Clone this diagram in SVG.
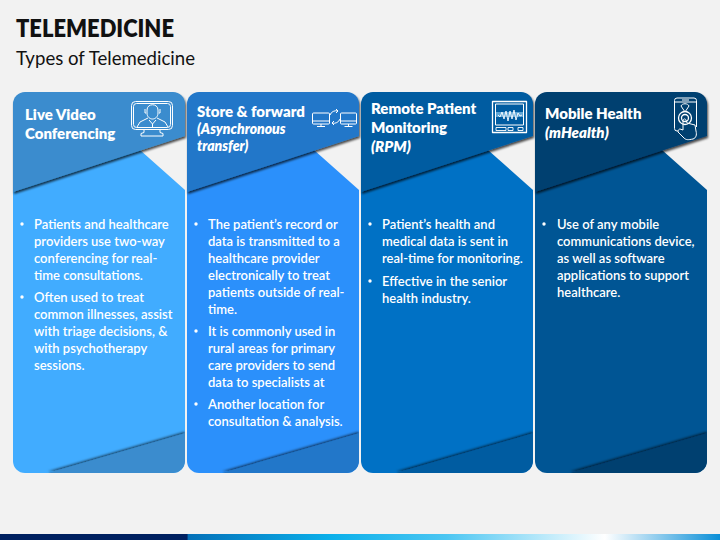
<svg xmlns="http://www.w3.org/2000/svg" width="720" height="540" viewBox="0 0 720 540">
<style>
text{font-family:"Lato","Open Sans","Liberation Sans",sans-serif;fill:#fff}
.t{font-size:15px;font-weight:800}
.i{font-size:14px;font-weight:800;font-style:italic}
.i2{font-size:15px;font-weight:800;font-style:italic}
.b{font-size:13px;font-weight:600}
.ic{fill:none;stroke:#fff;stroke-width:1;stroke-linejoin:round}
.h{font-size:23.5px;font-weight:800;fill:#111}
.s{font-size:18.6px;fill:#111}
</style>
<defs>
<linearGradient id="bar" x1="0" x2="1" y1="0" y2="0">
<stop offset="0" stop-color="#002060"/><stop offset=".26" stop-color="#002060"/><stop offset=".261" stop-color="#0470b8"/><stop offset=".46" stop-color="#0bb0ea"/><stop offset=".62" stop-color="#4cc6f2"/><stop offset=".84" stop-color="#fff"/><stop offset="1" stop-color="#0a8fd8"/>
</linearGradient>
<filter id="sh" x="-10%" y="-10%" width="120%" height="130%"><feDropShadow dx="1" dy="2" stdDeviation="1.2" flood-color="#000" flood-opacity=".7"/></filter>
<filter id="su" x="-10%" y="-30%" width="120%" height="160%"><feDropShadow dx="0" dy="-1.5" stdDeviation="1" flood-color="#000" flood-opacity=".6"/></filter>
<clipPath id="cb"><path d="M0 92H172V461a12 12 0 0 1-12 12H12a12 12 0 0 1-12-12Z"/></clipPath>
<path id="body2" d="M0 150H127L172 190V461a12 12 0 0 1-12 12H12a12 12 0 0 1-12-12Z"/>
<path id="top" d="M0 104a12 12 0 0 1 12-12H160a12 12 0 0 1 12 12V136L0 192Z"/>
<path id="bot" d="M35 473L171 433.500L172 434V461a12 12 0 0 1-12 12Z"/>
</defs>
<rect width="720" height="540" fill="#f2f2f2"/>
<rect y="534" width="720" height="6" fill="url(#bar)"/>
<text id="title" class="h" x="16" y="37" textLength="158" lengthAdjust="spacingAndGlyphs">TELEMEDICINE</text>
<text id="subtitle" class="s" x="16" y="65">Types of Telemedicine</text>

<g id="card1" transform="translate(13 0)">
<use href="#body2" fill="#41acff"/>
<g clip-path="url(#cb)"><use href="#bot" fill="#3a8cce" filter="url(#su)"/></g>
<use href="#top" fill="#3a8cce" filter="url(#sh)"/>
<text class="t" x="12" y="120">Live Video</text>
<text class="t" x="12" y="139">Conferencing</text>
<g class="ic" stroke-width=".9">
<rect x="118.500" y="101.500" width="41" height="28" rx="4"/><rect x="120.500" y="103.500" width="37" height="24" rx="3"/>
<path d="M131 129.500v3l-3 1v2.500h22v-2.500l-3-1v-3"/>
<path d="M134 110c0-7 11-7 11 0v3c0 4-3 6-5.500 6s-5.500-2-5.500-6ZM133 113h-1v-4M146 113h1v-4M135 118l-8 4-3 5M144 118l8 4 3 5M136 120l3.500 4 3.500-4M139.500 124v3"/>
</g>
<g class="b">
<circle cx="9" cy="224" r="1.7" fill="#fff"/>
<text x="21" y="229">Patients and healthcare</text>
<text x="21" y="246">providers use two-way</text>
<text x="21" y="263">conferencing for real-</text>
<text x="21" y="280">time consultations.</text>
<circle cx="9" cy="297" r="1.7" fill="#fff"/>
<text x="21" y="302">Often used to treat</text>
<text x="21" y="319">common illnesses, assist</text>
<text x="21" y="336">with triage decisions, &amp;</text>
<text x="21" y="353">with psychotherapy</text>
<text x="21" y="370">sessions.</text>
</g>
</g>

<g id="card2" transform="translate(187 0)">
<use href="#body2" fill="#2b90fb"/>
<g clip-path="url(#cb)"><use href="#bot" fill="#2277c9" filter="url(#su)"/></g>
<use href="#top" fill="#2277c9" filter="url(#sh)"/>
<text class="t" x="10" y="117">Store &amp; forward</text>
<text class="i" x="10" y="134">(Asynchronous</text>
<text class="i" x="10" y="151">transfer)</text>
<g class="ic" stroke-width="1.2">
<rect x="125.500" y="113" width="17" height="11" rx="1"/><path d="M125.500 121h17M134 124v2M130 126.500h8"/>
<rect x="153.500" y="113" width="16" height="11" rx="1"/><path d="M153.500 121h16M161.500 124v2M157.500 126.500h8"/>
<path d="M143 115a6.500 6.500 0 0 1 8-4M153 119a6.500 6.500 0 0 1-8 4M149 109l2 2-2 2M147 121l-2 2 2 2"/>
</g>
<g class="b">
<circle cx="9" cy="224" r="1.7" fill="#fff"/>
<text x="21" y="229">The patient’s record or</text>
<text x="21" y="246">data is transmitted to a</text>
<text x="21" y="263">healthcare provider</text>
<text x="21" y="280">electronically to treat</text>
<text x="21" y="297">patients outside of real-</text>
<text x="21" y="314">time.</text>
<circle cx="9" cy="331" r="1.7" fill="#fff"/>
<text x="21" y="336">It is commonly used in</text>
<text x="21" y="353">rural areas for primary</text>
<text x="21" y="370">care providers to send</text>
<text x="21" y="387">data to specialists at</text>
<circle cx="9" cy="404" r="1.7" fill="#fff"/>
<text x="21" y="409">Another location for</text>
<text x="21" y="426">consultation &amp; analysis.</text>
</g>
</g>

<g id="card3" transform="translate(361 0)">
<use href="#body2" fill="#0071c5"/>
<g clip-path="url(#cb)"><use href="#bot" fill="#005ca1" filter="url(#su)"/></g>
<use href="#top" fill="#005ca1" filter="url(#sh)"/>
<text class="t" x="10" y="114">Remote Patient</text>
<text class="t" x="10" y="133">Monitoring</text>
<text class="i2" x="10" y="152">(RPM)</text>
<rect x="134" y="112" width="29" height="5" fill="#5fa6d6"/>
<g class="ic">
<rect x="131.500" y="101.500" width="34" height="31" stroke-width="1.3"/>
<rect x="134.500" y="104" width="28" height="21"/>
<path d="M137 115l2 2 2-5 2 7 2-8 2 10 2-10 2 8 2-9 2 10 2-7 2 3 2-1" stroke-width=".9"/>
<path d="M135 127.500h10v3h-10ZM147 127.500h5v3h-5ZM157 127.500h5v3h-5Z" stroke-width=".9"/>
</g>
<g class="b">
<circle cx="9" cy="224" r="1.7" fill="#fff"/>
<text x="21" y="229">Patient’s health and</text>
<text x="21" y="246">medical data is sent in</text>
<text x="21" y="263">real-time for monitoring.</text>
<circle cx="9" cy="281" r="1.7" fill="#fff"/>
<text x="21" y="286">Effective in the senior</text>
<text x="21" y="303">health industry.</text>
</g>
</g>

<g id="card4" transform="translate(535 0)">
<use href="#body2" fill="#005594"/>
<g clip-path="url(#cb)"><use href="#bot" fill="#003f70" filter="url(#su)"/></g>
<use href="#top" fill="#003f70" filter="url(#sh)"/>
<text class="t" x="10" y="119">Mobile Health</text>
<text class="i2" x="10" y="138">(mHealth)</text>
<g class="ic" stroke-width=".9">
<path d="M143 131h-1a2.500 2.500 0 0 1-2.500-2.500V100.500a2.500 2.500 0 0 1 2.500-2.500h17a2.500 2.500 0 0 1 2.500 2.500V127"/>
<path d="M140 102h21M147 100h7"/>
<path d="M146 106c1-3 7-3 8 0l-4 6Z"/>
<circle cx="150" cy="118" r="6.500" stroke-width="1.300"/><circle cx="150" cy="118" r="3.500" stroke-width="1.300"/>
<path d="M143 132l6 6c2 2 4 2 9 1 3-1 4-4 3-8l-1-6-8-2-1-3c-1-2-3-1-3 1v9l-3-1c-1 0-2 1-2 3Z"/>
</g>
<g class="b">
<circle cx="9" cy="224" r="1.7" fill="#fff"/>
<text x="22" y="229">Use of any mobile</text>
<text x="22" y="246">communications device,</text>
<text x="22" y="263">as well as software</text>
<text x="22" y="280">applications to support</text>
<text x="22" y="297">healthcare.</text>
</g>
</g>
</svg>
